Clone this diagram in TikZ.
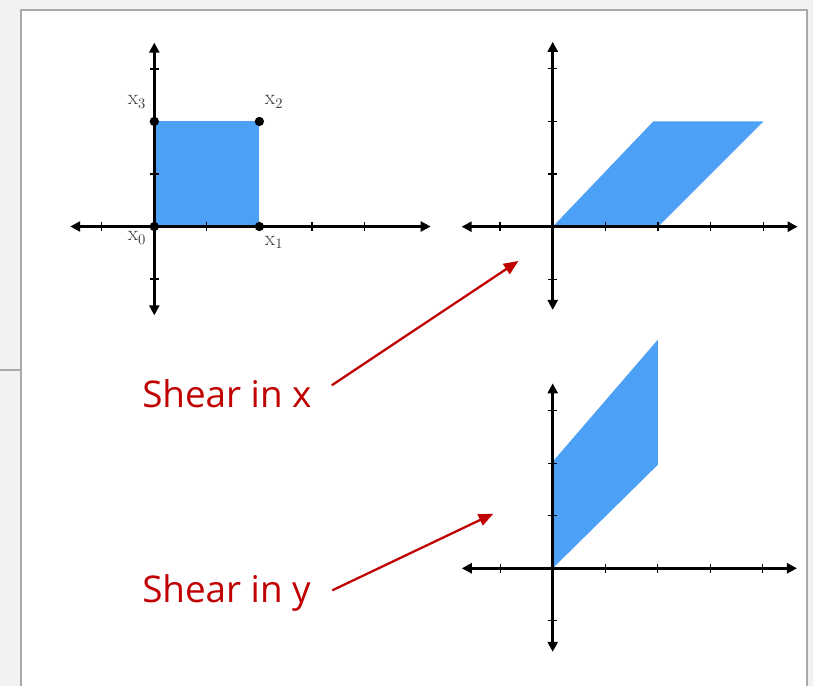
\documentclass[tikz,border=0pt]{standalone}
\usepackage{fontspec}
\newfontfamily\labelfont{Open Sans}
\usetikzlibrary{arrows.meta}
\definecolor{shapeblue}{RGB}{76,160,245}
\definecolor{labelred}{RGB}{192,0,0}
\definecolor{framegray}{RGB}{170,170,170}
\definecolor{panegray}{RGB}{242,242,242}
\begin{document}
\begin{tikzpicture}[x=0.75pt,y=-0.75pt,
 axisline/.style={line width=2pt, black, {Triangle[length=7.5pt,width=7.5pt]}-{Triangle[length=7.5pt,width=7.5pt]}},
 tickmark/.style={line width=0.9pt,black},
 vertex/.style={circle,fill=black,inner sep=0pt,minimum size=7pt},
 ptlabel/.style={font=\fontsize{16}{16}\selectfont, text=black!75, inner sep=0pt},
 caption/.style={font=\labelfont\fontsize{27.6}{30}\selectfont, text=labelred, inner sep=0pt, anchor=base west},
 pointer/.style={line width=1.7pt, labelred, -{Triangle[length=11pt,width=9pt]}},
 region/.style={fill=shapeblue}]

\useasboundingbox (0,0) rectangle (813,686);
\fill[panegray] (0,0) rectangle (813,686);
\fill[white] (21,10) rectangle (807,686);
\draw[framegray, line width=1.5pt] (21,686) -- (21,10) -- (807,10) -- (807,686);
\draw[framegray, line width=1.5pt] (0,370) -- (21,370);

% panel 1: unit square
\begin{scope}[shift={(154.3,226.5)}, x=39.4pt, y=39.4pt]
 \fill[region] (0,0) rectangle (2,2);
 \foreach \t in {-1,1,2,3,4} \draw[tickmark] (\t,-0.09) -- (\t,0.09);
 \foreach \t in {-1,1,2,3} \draw[tickmark] (-0.09,\t) -- (0.09,\t);
 \draw[axisline] (-1.6,0) -- (5.26,0);
 \draw[axisline] (0,-1.69) -- (0,3.5);
 \node[vertex] (p0) at (0,0) {};
 \node[vertex] (p1) at (2,0) {};
 \node[vertex] (p2) at (2,2) {};
 \node[vertex] (p3) at (0,2) {};
 \node[ptlabel] (l0) at (-0.33,-0.22) {x$_0$};
 \node[ptlabel] (l1) at (2.28,-0.30) {x$_1$};
 \node[ptlabel] (l2) at (2.28,2.37) {x$_2$};
 \node[ptlabel] (l3) at (-0.33,2.37) {x$_3$};
\end{scope}

% panel 2: shear in x
\begin{scope}[shift={(552.7,226.7)}, x=39.5pt, y=39.5pt]
 \fill[region] (0,0) -- (2,0) -- (4,2) -- (1.91,2) -- cycle;
 \foreach \t in {-1,1,2,3,4} \draw[tickmark] (\t,-0.09) -- (\t,0.09);
 \foreach \t in {-1,1,2,3} \draw[tickmark] (-0.09,\t) -- (0.09,\t);
 \draw[axisline] (-1.73,0) -- (4.65,0);
 \draw[axisline] (0,-1.58) -- (0,3.51);
 \coordinate (tipx) at (-0.65,-0.65);
\end{scope}

% panel 3: shear in y
\begin{scope}[shift={(552.7,568.3)}, x=39.4pt, y=39.4pt]
 \fill[region] (0,0) -- (2,1.97) -- (2,4.35) -- (0,2.03) -- cycle;
 \foreach \t in {-1,1,2,3,4} \draw[tickmark] (\t,-0.09) -- (\t,0.09);
 \foreach \t in {-1,1,2,3} \draw[tickmark] (-0.09,\t) -- (0.09,\t);
 \draw[axisline] (-1.73,0) -- (4.65,0);
 \draw[axisline] (0,-1.59) -- (0,3.52);
 \coordinate (tipy) at (-1.13,1.04);
\end{scope}

\node[caption] (capx) at (142,407.3) {Shear in x};
\node[caption] (capy) at (142,602.3) {Shear in y};
\draw[pointer] ([xshift=15pt,yshift=16.5pt]capx.base east) -- (tipx);
\draw[pointer] ([xshift=16pt,yshift=9pt]capy.base east) -- (tipy);
\end{tikzpicture}
\end{document}
